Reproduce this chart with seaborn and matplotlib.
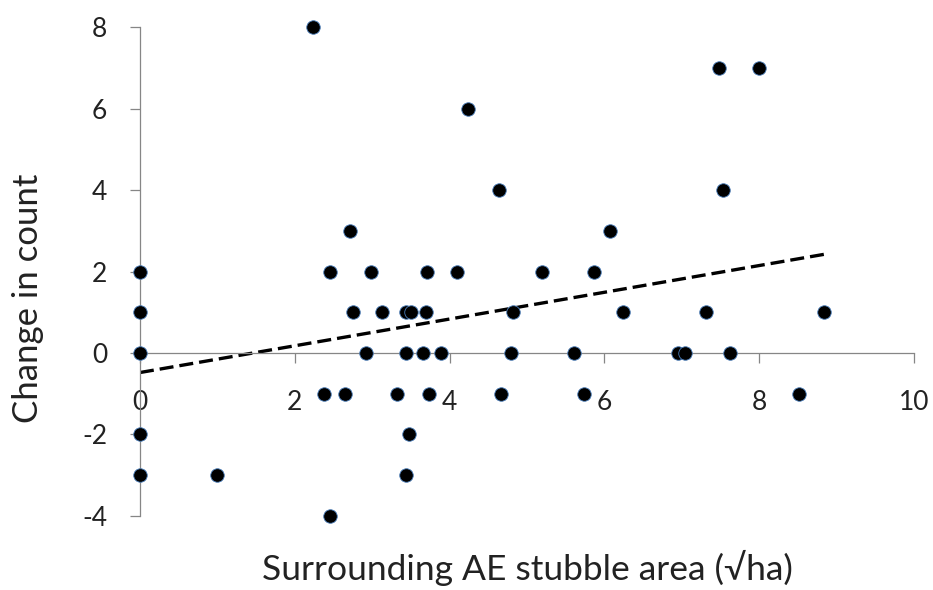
import numpy as np
import pandas as pd
import seaborn as sns
import matplotlib.pyplot as plt

sns.set_theme(style="white")
plt.rcParams["font.family"] = ["Lato", "DejaVu Sans"]

# data
area = [0, 0, 0, 0, 0,
        1.00, 2.24, 2.38, 2.45, 2.45, 2.65, 2.71, 2.75, 2.92, 2.99,
        3.13, 3.32, 3.44, 3.50, 3.44, 3.44, 3.47, 3.66, 3.69, 3.71,
        3.73, 3.89, 4.10, 4.24, 4.64, 4.67, 4.79, 4.82, 5.20, 5.61,
        5.74, 5.87, 6.07, 6.24, 6.95, 7.04, 7.31, 7.48, 7.53, 7.62,
        8.00, 8.51, 8.84]
change = [2, 1, 0, -2, -3,
          -3, 8, -1, 2, -4, -1, 3, 1, 0, 2,
          1, -1, 1, 1, 0, -3, -2, 0, 1, 2,
          -1, 0, 2, 6, 4, -1, 0, 1, 2, 0,
          -1, 2, 3, 1, 0, 0, 1, 7, 4, 0,
          7, -1, 1]
x_ticks = [0, 2, 4, 6, 8, 10]
y_ticks = [-4, -2, 0, 2, 4, 6, 8]

df = pd.DataFrame({"area": area, "change": change})

fig = plt.figure(figsize=(9.33, 5.9), dpi=100)
ax = fig.add_axes([0.150, 0.1259, 0.8296, 0.8278])

sns.regplot(data=df, x="area", y="change", ax=ax, scatter=False, ci=None,
            truncate=True,
            line_kws=dict(color="black", lw=2.4, ls=(0, (4.2, 1.8)), zorder=2))
sns.scatterplot(data=df, x="area", y="change", ax=ax, color="black", s=95,
                edgecolor="#4a7ebb", linewidth=0.6, zorder=3, clip_on=False,
                legend=False)

ax.set_xlim(0, 10)
ax.set_ylim(-4, 8)
ax.set_xticks(x_ticks)
ax.set_yticks(y_ticks)
ax.set_xticklabels([str(t) for t in x_ticks])
ax.set_yticklabels([str(t) for t in y_ticks])

for s in ["top", "right"]:
    ax.spines[s].set_visible(False)
ax.spines["bottom"].set_position(("data", 0))
for s in ["left", "bottom"]:
    ax.spines[s].set_color("#868686")
    ax.spines[s].set_linewidth(0.9)

ax.tick_params(axis="x", direction="out", length=7.5, width=0.9,
               color="#868686", pad=19, labelsize=19, labelcolor="#222222",
               bottom=True)
ax.tick_params(axis="y", direction="out", length=7.5, width=0.9,
               color="#868686", pad=16, labelsize=19, labelcolor="#222222",
               left=True)

ax.set_xlabel("Surrounding AE stubble area (\u221aha)", fontsize=25.5,
              color="#222222", va="center")
ax.set_ylabel("Change in count", fontsize=25, color="#222222", va="center")
ax.xaxis.set_label_coords(0.5, -0.107)
ax.yaxis.set_label_coords(-0.145, 0.446)

fig.savefig("out.png", dpi=100)
